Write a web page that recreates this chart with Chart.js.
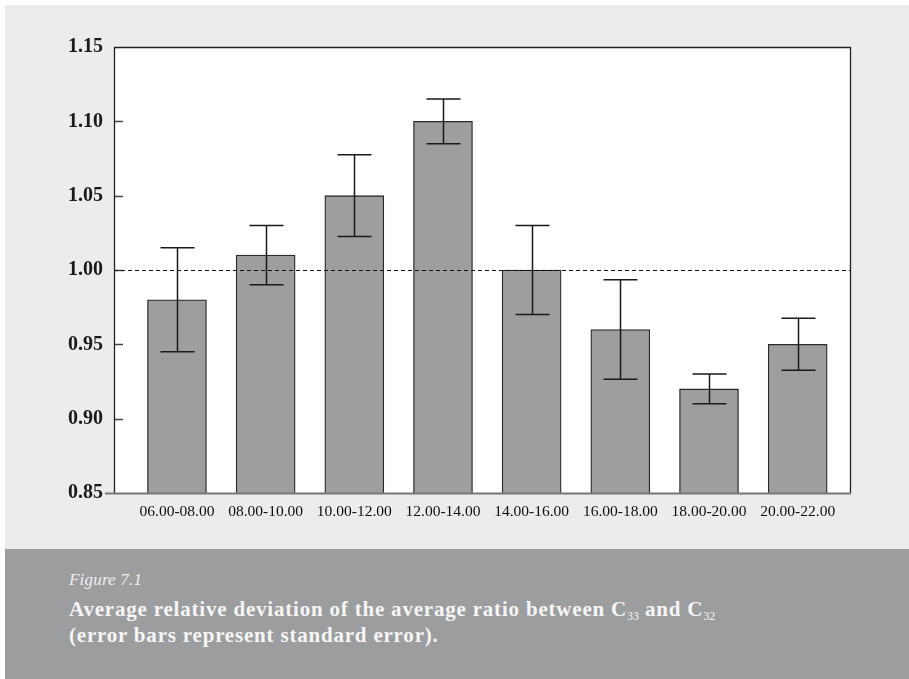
<!DOCTYPE html>
<html>
<head>
<meta charset="utf-8">
<script src="https://cdn.jsdelivr.net/npm/chart.js@4.4.1/dist/chart.umd.min.js"></script>
<style>
  html, body { margin: 0; padding: 0; background: #ffffff; }
  body { width: 909px; height: 679px; position: relative; overflow: hidden; }
  #panel { position: absolute; left: 5px; top: 5px; width: 904px; height: 544px; background: #EBECEB; }
  #caption { position: absolute; left: 5px; top: 549px; width: 904px; height: 130px; background: #9C9D9F;
             font-family: "Liberation Serif", "Times New Roman", serif; color: #F6F6F6; }
  #caption .fig { position: absolute; left: 64px; top: 21px; font-style: italic; font-size: 17px; letter-spacing: 0.2px; color: #EFEFEF; }
  #caption .txt { position: absolute; left: 64px; top: 47px; font-weight: bold; font-size: 21px; line-height: 26px; letter-spacing: 0.8px; }
  #caption sub { font-size: 12px; vertical-align: -4px; line-height: 0; font-weight: normal; letter-spacing: 0; }
</style>
</head>
<body>
<div id="panel"><canvas id="chart" width="904" height="544"></canvas></div>
<div id="caption">
  <div class="fig">Figure 7.1</div>
  <div class="txt">Average relative deviation of the average ratio between C<sub>33</sub> and C<sub>32</sub><br>(error bars represent standard error).</div>
</div>
<script>
// Two-hour time windows
const categories = ['06.00-08.00', '08.00-10.00', '10.00-12.00', '12.00-14.00',
                    '14.00-16.00', '16.00-18.00', '18.00-20.00', '20.00-22.00'];
// Average relative deviation per window
const means = [0.98, 1.01, 1.05, 1.10, 1.00, 0.96, 0.92, 0.95];
// Standard error per window
const stdErr = [0.035, 0.020, 0.0275, 0.015, 0.030, 0.0335, 0.010, 0.0175];
// Y-axis range and tick step
const yMin = 0.85, yMax = 1.15, yStep = 0.05;
// Reference level drawn as a dashed line
const referenceLevel = 1.00;

const FRAME_DARK = '#222222';

// Frame, inner tick marks, reference line and error bars
const decorations = {
  id: 'decorations',
  beforeDatasetsDraw(chart) {
    const { ctx, chartArea: a, scales: { y } } = chart;
    ctx.save();
    // inner tick marks on the y axis
    ctx.strokeStyle = '#444';
    ctx.lineWidth = 1.5;
    y.ticks.forEach(t => {
      if (t.value <= yMin + 1e-9 || t.value >= yMax - 1e-9) return;
      const py = Math.round(y.getPixelForValue(t.value)) + 0.5;
      ctx.beginPath();
      ctx.moveTo(a.left, py);
      ctx.lineTo(a.left + 9, py);
      ctx.stroke();
    });
    ctx.restore();
  },
  afterDatasetsDraw(chart) {
    const { ctx, chartArea: a, scales: { x, y } } = chart;
    ctx.save();
    // dashed reference line
    const ry = Math.round(y.getPixelForValue(referenceLevel)) + 0.5;
    ctx.strokeStyle = '#111';
    ctx.lineWidth = 1;
    ctx.setLineDash([4, 3]);
    ctx.beginPath();
    ctx.moveTo(a.left, ry);
    ctx.lineTo(a.right, ry);
    ctx.stroke();
    ctx.setLineDash([]);

    // error bars
    ctx.strokeStyle = '#1a1a1a';
    ctx.lineWidth = 1.5;
    means.forEach((m, i) => {
      const px = Math.round(x.getPixelForValue(i + 1)) + 0.5;
      const top = y.getPixelForValue(m + stdErr[i]);
      const bot = y.getPixelForValue(m - stdErr[i]);
      ctx.beginPath();
      ctx.moveTo(px, top); ctx.lineTo(px, bot);
      ctx.moveTo(px - 17, top); ctx.lineTo(px + 17, top);
      ctx.moveTo(px - 17, bot); ctx.lineTo(px + 17, bot);
      ctx.stroke();
    });

    // plot frame
    ctx.strokeStyle = FRAME_DARK;
    ctx.lineWidth = 1.3;
    ctx.beginPath();
    ctx.moveTo(a.left + 0.5, a.bottom);
    ctx.lineTo(a.left + 0.5, a.top + 0.5);
    ctx.lineTo(a.right + 0.5, a.top + 0.5);
    ctx.lineTo(a.right + 0.5, a.bottom);
    ctx.stroke();
    ctx.strokeStyle = '#777';
    ctx.lineWidth = 2;
    ctx.beginPath();
    ctx.moveTo(a.left - 9, a.bottom + 0.5);
    ctx.lineTo(a.right + 1, a.bottom + 0.5);
    ctx.stroke();
    ctx.restore();
  }
};

// white plotting area
const plotBackground = {
  id: 'plotBackground',
  beforeDraw(chart) {
    const { ctx, chartArea: a } = chart;
    ctx.save();
    ctx.fillStyle = '#ffffff';
    ctx.fillRect(a.left, a.top, a.right - a.left, a.bottom - a.top);
    ctx.restore();
  }
};

new Chart(document.getElementById('chart'), {
  type: 'bar',
  data: {
    datasets: [{
      data: means.map((m, i) => ({ x: i + 1, y: m })),
      base: yMin,
      backgroundColor: '#9D9EA0',
      borderColor: '#2a2a2a',
      borderWidth: 1.3,
      borderSkipped: 'bottom',
      barThickness: 59
    }]
  },
  options: {
    responsive: false,
    animation: false,
    devicePixelRatio: 1,
    layout: { padding: { left: 0, top: 42, right: 59, bottom: 0 } },
    plugins: { legend: { display: false }, tooltip: { enabled: false } },
    scales: {
      x: {
        type: 'linear',
        offset: false,
        min: 0.29,
        max: 8.59,
        afterBuildTicks: s => { s.ticks = categories.map((c, i) => ({ value: i + 1 })); },
        afterFit: s => { s.height = 56; },
        grid: { display: false, drawTicks: false, offset: false },
        border: { display: false },
        ticks: {
          autoSkip: false,
          maxRotation: 0,
          padding: 10,
          color: '#0e0e0e',
          font: { family: 'Liberation Serif', size: 15.5 },
          callback: v => categories[v - 1]
        }
      },
      y: {
        min: yMin,
        max: yMax,
        afterFit: s => { s.width = 109; },
        grid: { display: false, drawTicks: false },
        border: { display: false },
        ticks: {
          stepSize: yStep,
          padding: 11,
          color: '#1a1a1a',
          font: { family: 'Liberation Serif', size: 20, weight: 'bold' },
          callback: v => Number(v).toFixed(2)
        }
      }
    }
  },
  plugins: [plotBackground, decorations]
});
</script>
</body>
</html>
